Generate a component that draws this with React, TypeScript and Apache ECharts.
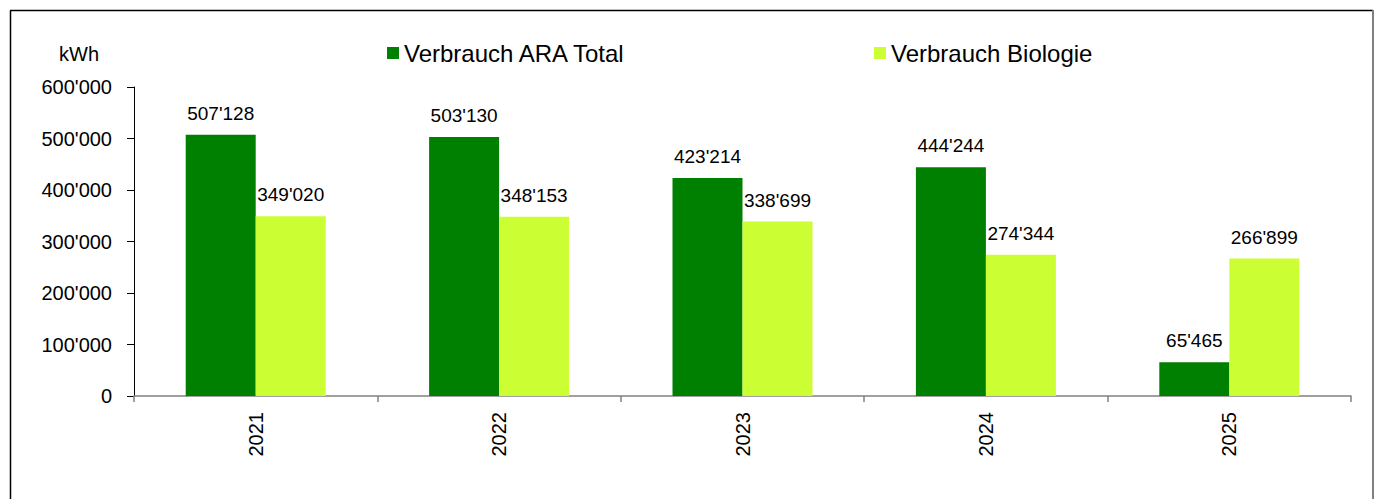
import React, { useEffect, useRef } from "react";
import * as echarts from "echarts";

const categories = ["2021", "2022", "2023", "2024", "2025"];
const araTotal = [507128, 503130, 423214, 444244, 65465];
const biologie = [349020, 348153, 338699, 274344, 266899];
const seriesNames = ["Verbrauch ARA Total", "Verbrauch Biologie"];
const unitLabel = "kWh";

const FONT = "'Liberation Sans', Arial, sans-serif";

function fmt(v: number): string {
  return String(Math.round(v)).replace(/\B(?=(\d{3})+(?!\d))/g, "'");
}

export default function App() {
  const ref = useRef<HTMLDivElement>(null);
  useEffect(() => {
    document.body.style.margin = "0";
    if (!ref.current) return;
    const chart = echarts.init(ref.current, undefined, { renderer: "svg" });
    const labelCfg = {
      show: true,
      position: "top" as const,
      distance: 12,
      color: "#000",
      fontSize: 19,
      fontFamily: FONT,
      formatter: (p: any) => fmt(p.value),
    };
    const legendText = { fontSize: 24, fontFamily: FONT, color: "#000" };
    chart.setOption({
      animation: false,
      backgroundColor: "#fff",
      grid: { left: 134, right: 25, top: 87, bottom: 103, containLabel: false },
      legend: [
        {
          data: [seriesNames[0]],
          left: 382,
          top: 36,
          itemWidth: 12,
          itemHeight: 12,
          icon: "rect",
          textStyle: legendText,
        },
        {
          data: [seriesNames[1]],
          left: 869,
          top: 36,
          itemWidth: 12,
          itemHeight: 12,
          icon: "rect",
          textStyle: legendText,
        },
      ],
      xAxis: {
        type: "category",
        data: categories,
        axisLine: { lineStyle: { color: "#808080", width: 1.5 } },
        axisTick: { show: true, length: 6, lineStyle: { color: "#808080", width: 1.5 } },
        axisLabel: {
          rotate: 90,
          margin: 16,
          fontSize: 20,
          fontFamily: FONT,
          color: "#000",
        },
        splitLine: { show: false },
      },
      yAxis: {
        type: "value",
        min: 0,
        max: 600000,
        interval: 100000,
        axisLine: { show: true, lineStyle: { color: "#000", width: 1 } },
        axisTick: { show: true, length: 7, lineStyle: { color: "#000", width: 1 } },
        axisLabel: {
          margin: 22,
          fontSize: 20,
          fontFamily: FONT,
          color: "#000",
          formatter: (v: number) => fmt(v),
        },
        splitLine: { show: false },
      },
      series: [
        {
          name: seriesNames[0],
          type: "bar",
          data: araTotal,
          barWidth: 70,
          barGap: "0%",
          itemStyle: { color: "#008000" },
          label: labelCfg,
        },
        {
          name: seriesNames[1],
          type: "bar",
          data: biologie,
          barWidth: 70,
          barGap: "0%",
          itemStyle: { color: "#CCFF33" },
          label: labelCfg,
        },
      ],
      graphic: [
        {
          type: "text",
          left: 59,
          top: 44,
          style: { text: unitLabel, fontSize: 20, fontFamily: FONT, fill: "#000" },
        },
        {
          type: "line",
          shape: { x1: 10.5, y1: 10.5, x2: 10.5, y2: 520 },
          style: { stroke: "#000", lineWidth: 1.5 },
        },
        {
          type: "line",
          shape: { x1: 10, y1: 10.5, x2: 1373, y2: 10.5 },
          style: { stroke: "#000", lineWidth: 1.5 },
        },
        {
          type: "line",
          shape: { x1: 1373, y1: 10, x2: 1373, y2: 520 },
          style: { stroke: "#808080", lineWidth: 2 },
        },
      ],
    });
    return () => chart.dispose();
  }, []);
  return <div ref={ref} style={{ width: 1376, height: 499 }} />;
}
